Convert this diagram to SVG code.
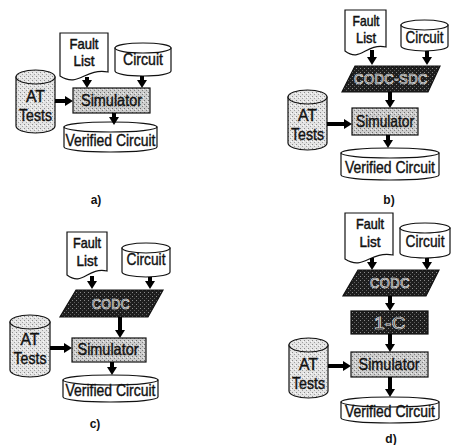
<svg xmlns="http://www.w3.org/2000/svg" width="453" height="445" viewBox="0 0 453 445">
<defs>
<style>
.t{font-family:"Liberation Sans",Arial,sans-serif;font-size:16.5px;fill:#111;stroke:#111;stroke-width:0.4;text-anchor:middle}
.f{font-size:14.5px;stroke-width:0.5}
.h{font-family:"Liberation Sans",Arial,sans-serif;font-size:14px;fill:#1e1e1e;stroke:#e8e8e8;stroke-width:0.7;letter-spacing:0.5px;text-anchor:middle}
.lb{font-family:"Liberation Sans",Arial,sans-serif;font-size:12px;font-weight:bold;fill:#111;text-anchor:middle}
.w{fill:#fff;stroke:#111;stroke-width:1.2}
.lg{fill:url(#pl);stroke:#111;stroke-width:1.2}
.sm{fill:url(#pm);stroke:#111;stroke-width:1.2}
.dk{fill:url(#pd);stroke:#111;stroke-width:1.2}
.ar{stroke:#000;stroke-width:4;fill:none;marker-end:url(#ah)}
</style>
<pattern id="pl" width="4" height="4" patternUnits="userSpaceOnUse"><rect width="4" height="4" fill="#e4e4e4"/><rect x="0" y="0" width="1" height="1" fill="#8c8c8c"/><rect x="2" y="2" width="1" height="1" fill="#a0a0a0"/><rect x="3" y="1" width="1" height="1" fill="#fafafa"/></pattern>
<pattern id="pm" width="4" height="4" patternUnits="userSpaceOnUse"><rect width="4" height="4" fill="#cdcdcd"/><rect x="0" y="0" width="1" height="1" fill="#6e6e6e"/><rect x="2" y="2" width="1" height="1" fill="#7e7e7e"/><rect x="3" y="1" width="1" height="1" fill="#eeeeee"/></pattern>
<pattern id="pd" width="4" height="4" patternUnits="userSpaceOnUse"><rect width="4" height="4" fill="#1e1e1e"/><rect x="0" y="0" width="1" height="1" fill="#8a8a8a"/><rect x="2" y="2" width="1" height="1" fill="#5a5a5a"/></pattern>
<marker id="ah" viewBox="0 0 8 10" refX="0" refY="5" markerWidth="8" markerHeight="10" markerUnits="userSpaceOnUse" orient="auto"><path d="M0,0 L8,5 L0,10 Z" fill="#000"/></marker>
</defs>

<!-- Panel a -->
<g id="a-fault"><path class="w" d="M60,33 H108 V72 C84,68 79,88 60,76 Z"/><text class="t f" x="84" y="49" textLength="29" lengthAdjust="spacingAndGlyphs">Fault</text><text class="t f" x="84" y="66" textLength="21" lengthAdjust="spacingAndGlyphs">List</text></g>
<g id="a-circuit"><path class="w" d="M115,48 V71 A28,5 0 0 0 171,71 V48 Z"/><ellipse class="w" cx="143" cy="48" rx="28" ry="5"/><text class="t" x="143" y="65" textLength="40" lengthAdjust="spacingAndGlyphs">Circuit</text></g>
<g id="a-at"><path class="lg" d="M16,77 V126 A19.5,7 0 0 0 55,126 V77 Z"/><ellipse class="lg" cx="35.5" cy="77" rx="19.5" ry="7"/><text class="t" x="35.5" y="102" textLength="19" lengthAdjust="spacingAndGlyphs">AT</text><text class="t" x="35.5" y="121" textLength="33" lengthAdjust="spacingAndGlyphs">Tests</text></g>
<g id="a-sim"><rect class="sm" x="73" y="88" width="77" height="25"/><text class="t" x="111.5" y="106" textLength="61" lengthAdjust="spacingAndGlyphs">Simulator</text></g>
<g id="a-ver"><path class="w" d="M64,127 V147 A46.5,5 0 0 0 157,147 V127 Z"/><ellipse class="w" cx="110.5" cy="127" rx="46.5" ry="5"/><text class="t" x="110.5" y="146" textLength="90" lengthAdjust="spacingAndGlyphs">Verified Circuit</text></g>
<g id="a-label"><text class="lb" x="96" y="204">a)</text></g>

<!-- Panel b -->
<g id="b-fault"><path class="w" d="M345,10 H386 V47 C365,43 361,63 345,51 Z"/><text class="t f" x="366" y="26" textLength="27" lengthAdjust="spacingAndGlyphs">Fault</text><text class="t f" x="366" y="43" textLength="20" lengthAdjust="spacingAndGlyphs">List</text></g>
<g id="b-circuit"><path class="w" d="M401,25 V46 A23.5,5 0 0 0 448,46 V25 Z"/><ellipse class="w" cx="424.5" cy="25" rx="23.5" ry="5"/><text class="t" x="424.5" y="43" textLength="38" lengthAdjust="spacingAndGlyphs">Circuit</text></g>
<g id="b-codc"><polygon class="dk" points="355,66 440,66 428,92 342,92"/><text class="h" x="391" y="84" textLength="74" lengthAdjust="spacingAndGlyphs">CODC-SDC</text></g>
<g id="b-at"><path class="lg" d="M288,97 V143 A19.5,7 0 0 0 327,143 V97 Z"/><ellipse class="lg" cx="307.5" cy="97" rx="19.5" ry="7"/><text class="t" x="307.5" y="121" textLength="19" lengthAdjust="spacingAndGlyphs">AT</text><text class="t" x="307.5" y="140" textLength="33" lengthAdjust="spacingAndGlyphs">Tests</text></g>
<g id="b-sim"><rect class="sm" x="352" y="108" width="66" height="27"/><text class="t" x="385" y="127" textLength="58" lengthAdjust="spacingAndGlyphs">Simulator</text></g>
<g id="b-ver"><path class="w" d="M341,153 V175 A49,5 0 0 0 439,175 V153 Z"/><ellipse class="w" cx="390" cy="153" rx="49" ry="5"/><text class="t" x="390" y="173" textLength="90" lengthAdjust="spacingAndGlyphs">Verified Circuit</text></g>
<g id="b-label"><text class="lb" x="389" y="204">b)</text></g>

<!-- Panel c -->
<g id="c-fault"><path class="w" d="M67,232 H107 V271 C87,267 83,287 67,275 Z"/><text class="t f" x="87" y="248" textLength="28" lengthAdjust="spacingAndGlyphs">Fault</text><text class="t f" x="87" y="266" textLength="21" lengthAdjust="spacingAndGlyphs">List</text></g>
<g id="c-circuit"><path class="w" d="M122,248 V272 A24,5 0 0 0 170,272 V248 Z"/><ellipse class="w" cx="146" cy="248" rx="24" ry="5"/><text class="t" x="146" y="265" textLength="39" lengthAdjust="spacingAndGlyphs">Circuit</text></g>
<g id="c-codc"><polygon class="dk" points="76,290 163,290 148,317 60,317"/><text class="h" x="111" y="309" textLength="38" lengthAdjust="spacingAndGlyphs">CODC</text></g>
<g id="c-at"><path class="lg" d="M10,322 V370 A20,7 0 0 0 50,370 V322 Z"/><ellipse class="lg" cx="30" cy="322" rx="20" ry="7"/><text class="t" x="30" y="345" textLength="19" lengthAdjust="spacingAndGlyphs">AT</text><text class="t" x="30" y="364" textLength="33" lengthAdjust="spacingAndGlyphs">Tests</text></g>
<g id="c-sim"><rect class="sm" x="72" y="338" width="74" height="24"/><text class="t" x="108" y="355" textLength="61" lengthAdjust="spacingAndGlyphs">Simulator</text></g>
<g id="c-ver"><path class="w" d="M63,380 V397 A47.5,5 0 0 0 158,397 V380 Z"/><ellipse class="w" cx="110.5" cy="380" rx="47.5" ry="5"/><text class="t" x="110.5" y="396" textLength="90" lengthAdjust="spacingAndGlyphs">Verified Circuit</text></g>
<g id="c-label"><text class="lb" x="95" y="428">c)</text></g>

<!-- Panel d -->
<g id="d-fault"><path class="w" d="M345,213 H393 V255 C369,251 364,271 345,259 Z"/><text class="t f" x="370" y="229" textLength="28" lengthAdjust="spacingAndGlyphs">Fault</text><text class="t f" x="370" y="247" textLength="21" lengthAdjust="spacingAndGlyphs">List</text></g>
<g id="d-circuit"><path class="w" d="M400,228 V253 A25,5 0 0 0 450,253 V228 Z"/><ellipse class="w" cx="425" cy="228" rx="25" ry="5"/><text class="t" x="425" y="247" textLength="39" lengthAdjust="spacingAndGlyphs">Circuit</text></g>
<g id="d-codc"><polygon class="dk" points="358,270 439,270 426,296 343,296"/><text class="h" x="390" y="288" textLength="40" lengthAdjust="spacingAndGlyphs">CODC</text></g>
<g id="d-1c"><rect class="dk" x="351" y="311" width="77" height="23"/><text class="h" x="390" y="329" style="font-size:16px" textLength="32" lengthAdjust="spacingAndGlyphs">1-C</text></g>
<g id="d-at"><path class="lg" d="M289,345 V391 A19.5,7 0 0 0 328,391 V345 Z"/><ellipse class="lg" cx="308.5" cy="345" rx="19.5" ry="7"/><text class="t" x="308.5" y="370" textLength="19" lengthAdjust="spacingAndGlyphs">AT</text><text class="t" x="308.5" y="389" textLength="33" lengthAdjust="spacingAndGlyphs">Tests</text></g>
<g id="d-sim"><rect class="sm" x="351" y="352" width="77" height="25"/><text class="t" x="389" y="370" textLength="61" lengthAdjust="spacingAndGlyphs">Simulator</text></g>
<g id="d-ver"><path class="w" d="M341,402 V418 A49,5 0 0 0 439,418 V402 Z"/><ellipse class="w" cx="390" cy="402" rx="49" ry="5"/><text class="t" x="390" y="417" textLength="90" lengthAdjust="spacingAndGlyphs">Verified Circuit</text></g>
<g id="d-label"><text class="lb" x="391" y="443">d)</text></g>

<g id="connectors">
<line class="ar" x1="87" y1="77" x2="87" y2="80"/>
<line class="ar" x1="142" y1="76" x2="142" y2="80"/>
<line class="ar" x1="55" y1="101" x2="65" y2="101"/>
<line class="ar" x1="114" y1="113" x2="114" y2="117"/>

<line class="ar" x1="372" y1="50" x2="372" y2="57"/>
<line class="ar" x1="427" y1="51" x2="427" y2="57"/>
<line class="ar" x1="390" y1="92" x2="390" y2="100"/>
<line class="ar" x1="327" y1="124" x2="344" y2="124"/>
<line class="ar" x1="388" y1="135" x2="388" y2="140"/>

<line class="ar" x1="92" y1="276" x2="92" y2="281"/>
<line class="ar" x1="150" y1="277" x2="150" y2="281"/>
<line class="ar" x1="120" y1="317" x2="120" y2="330"/>
<line class="ar" x1="50" y1="348" x2="64" y2="348"/>
<line class="ar" x1="112" y1="362" x2="112" y2="367"/>

<line class="ar" x1="372" y1="258" x2="372" y2="262"/>
<line class="ar" x1="427" y1="258" x2="427" y2="262"/>
<line class="ar" x1="390" y1="296" x2="390" y2="303"/>
<line class="ar" x1="390" y1="334" x2="390" y2="344"/>
<line class="ar" x1="328" y1="366" x2="343" y2="366"/>
<line class="ar" x1="390" y1="377" x2="390" y2="389"/>
</g>
</svg>
